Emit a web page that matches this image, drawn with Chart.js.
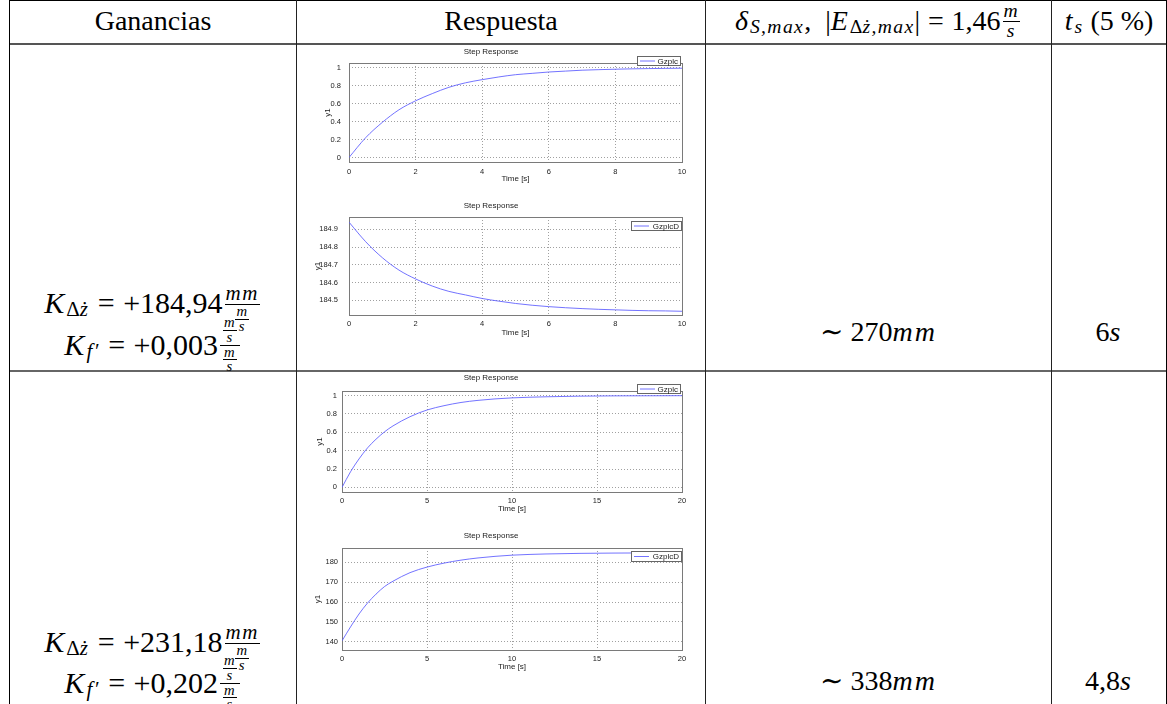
<!DOCTYPE html>
<html><head><meta charset="utf-8">
<script src="https://cdn.jsdelivr.net/npm/chart.js@4.4.1/dist/chart.umd.min.js"></script>
<style>
html,body{margin:0;padding:0;background:#fff}
#page{position:relative;width:1167px;height:704px;overflow:hidden;background:#fff;font-family:'Liberation Serif','DejaVu Serif',serif;color:#000}
.ln{position:absolute}
.cell{position:absolute;display:flex;align-items:center;justify-content:center;white-space:nowrap;font-size:28px;line-height:1;height:40px}
.big{font-size:30px}
i{font-style:italic;letter-spacing:0.07em}
.sb{font-size:70%;position:relative;top:0.3em}
.rel{margin:0 0.28em}
.fr{display:inline-flex;flex-direction:column;vertical-align:middle;text-align:center;font-size:70%;line-height:0.95;margin:0 2px;position:relative}
.fr>span{display:block;padding:0 1px}
.fr>span.n{border-bottom:1px solid #000}
canvas{position:absolute;left:300px}
</style></head>
<body><div id="page">
<!-- table rules -->
<div class="ln" style="left:9px;top:0;width:1158px;height:1px;background:#000"></div>
<div class="ln" style="left:9px;top:43px;width:1158px;height:2px;background:#555"></div>
<div class="ln" style="left:9px;top:370px;width:1158px;height:2px;background:#666"></div>
<div class="ln" style="left:9px;top:0;width:1px;height:704px;background:#000"></div>
<div class="ln" style="left:296px;top:0;width:1px;height:704px;background:#222"></div>
<div class="ln" style="left:705px;top:0;width:1px;height:704px;background:#222"></div>
<div class="ln" style="left:1051px;top:0;width:1px;height:704px;background:#222"></div>
<div class="ln" style="left:1166px;top:0;width:1px;height:704px;background:#000"></div>

<!-- header -->
<div class="cell" style="left:10px;width:286px;top:1px">Ganancias</div>
<div class="cell" style="left:297px;width:408px;top:1px">Respuesta</div>
<div class="cell" style="left:706px;width:345px;top:1px"><i>δ</i><span class="sb"><i>S,max</i></span>,&nbsp;&nbsp;|<i>E</i><span class="sb">Δ<i>ż,max</i></span>|<span class="rel">=</span>1,46<span class="fr"><span class="n"><i>m</i></span><span><i>s</i></span></span></div>
<div class="cell" style="left:1052px;width:114px;top:1px"><i>t</i><span class="sb"><i>s</i></span>&nbsp;(5 %)</div>

<!-- row 1 -->
<div class="cell big" style="left:10px;width:286px;top:283px"><i>K</i><span class="sb">Δ<i>ż</i></span><span class="rel">=</span>+184,94<span class="fr" style="top:6px"><span class="n"><i>mm</i></span><span><span class="fr"><span class="n"><i>m</i></span><span><i>s</i></span></span></span></span></div>
<div class="cell big" style="left:10px;width:286px;top:325px"><i>K</i><span class="sb"><i>f′</i></span><span class="rel">=</span>+0,003<span class="fr"><span class="n"><span class="fr"><span class="n"><i>m</i></span><span><i>s</i></span></span></span><span><span class="fr"><span class="n"><i>m</i></span><span><i>s</i></span></span></span></span></div>
<div class="cell" style="left:706px;width:345px;top:312px">∼&nbsp;270<i>mm</i></div>
<div class="cell" style="left:1052px;width:114px;top:312px">6<i>s</i></div>

<!-- row 2 -->
<div class="cell big" style="left:10px;width:286px;top:622px"><i>K</i><span class="sb">Δ<i>ż</i></span><span class="rel">=</span>+231,18<span class="fr" style="top:6px"><span class="n"><i>mm</i></span><span><span class="fr"><span class="n"><i>m</i></span><span><i>s</i></span></span></span></span></div>
<div class="cell big" style="left:10px;width:286px;top:663px"><i>K</i><span class="sb"><i>f′</i></span><span class="rel">=</span>+0,202<span class="fr"><span class="n"><span class="fr"><span class="n"><i>m</i></span><span><i>s</i></span></span></span><span><span class="fr"><span class="n"><i>m</i></span><span><i>s</i></span></span></span></span></div>
<div class="cell" style="left:706px;width:345px;top:661px">∼&nbsp;338<i>mm</i></div>
<div class="cell" style="left:1052px;width:114px;top:661px">4,8<i>s</i></div>

<canvas id="c1" width="395" height="140" style="top:44px"></canvas>
<canvas id="c2" width="395" height="140" style="top:198px"></canvas>
<canvas id="c3" width="395" height="144" style="top:370px"></canvas>
<canvas id="c4" width="395" height="144" style="top:528px"></canvas>
</div>
<script>
// ---- data ----
const timeRow1 = [0,0.5,1,1.5,2,2.5,3,3.5,4,4.5,5,5.5,6,6.5,7,7.5,8,8.5,9,9.5,10];
const gzplcRow1 = [0,0.22,0.39,0.53,0.63,0.71,0.78,0.83,0.865,0.895,0.92,0.935,0.95,0.96,0.97,0.976,0.981,0.985,0.988,0.99,0.992];
const gzplcDRow1 = [184.94,184.83,184.74,184.67,184.62,184.58,184.55,184.53,184.51,184.495,184.482,184.472,184.464,184.458,184.453,184.449,184.446,184.443,184.441,184.44,184.438];
const timeRow2 = [0,0.5,1,1.5,2,2.5,3,4,5,6,7,8,9,10,12,14,16,18,20];
const gzplcRow2 = [0,0.17,0.31,0.43,0.525,0.605,0.67,0.77,0.843,0.89,0.925,0.948,0.964,0.975,0.987,0.994,0.997,0.998,0.999];
const gzplcDRow2 = [140.5,147.5,154,159.5,164,167.8,170.5,174.8,177.6,179.6,181.1,182.2,183,183.6,184.2,184.5,184.65,184.72,184.76];
const xTicksRow1 = [0,2,4,6,8,10];
const xTicksRow2 = [0,5,10,15,20];
const yTicksUnit = [0,0.2,0.4,0.6,0.8,1];
const yTicksD1 = [184.5,184.6,184.7,184.8,184.9];
const yTicksD2 = [140,150,160,170,180];
const chartTitle = 'Step Response';
const xAxisTitle = 'Time [s]';
const yAxisTitle = 'y1';
const labelA = 'Gzplc';
const labelB = 'GzplcD';

const LINE = 'rgba(90,90,255,0.85)';
const SANS = "'Liberation Sans', Arial, sans-serif";

const framePlugin = {
  id: 'frame',
  beforeDatasetsDraw(chart) {
    const {ctx, chartArea: a} = chart;
    ctx.save();
    ctx.strokeStyle = '#7a7a7a'; ctx.lineWidth = 1;
    ctx.strokeRect(Math.round(a.left)+0.5, Math.round(a.top)+0.5, Math.round(a.right-a.left), Math.round(a.bottom-a.top));
    ctx.restore();
  }
};
const boxLegend = {
  id: 'boxLegend',
  afterDatasetsDraw(chart, args, o) {
    const {ctx, chartArea: a} = chart;
    const ds = chart.data.datasets[0];
    const x = Math.round(a.right - o.right - o.w), y = Math.round(a.top + o.dy);
    ctx.save();
    ctx.fillStyle = '#fff'; ctx.fillRect(x, y, o.w, o.h);
    ctx.strokeStyle = '#666'; ctx.lineWidth = 1; ctx.strokeRect(x+0.5, y+0.5, o.w, o.h);
    ctx.strokeStyle = ds.borderColor; ctx.beginPath();
    ctx.moveTo(x+3, y+o.h/2+0.5); ctx.lineTo(x+18, y+o.h/2+0.5); ctx.stroke();
    ctx.fillStyle = '#222'; ctx.font = '8px ' + SANS; ctx.textAlign = 'right'; ctx.textBaseline = 'middle';
    ctx.fillText(ds.label, x + o.w - 2, y + o.h/2 + 1);
    ctx.restore();
  }
};

function makeChart(id, t, y, label, xTicks, yTicks, xMax, yMin, yMax, g, lg) {
  const tf = 8, af = 8, kf = 7.5;
  const data = t.map((v,i) => ({x: v, y: y[i]}));
  new Chart(document.getElementById(id), {
    type: 'line',
    data: {datasets: [{label, data, borderColor: LINE, borderWidth: 1, pointRadius: 0, cubicInterpolationMode: 'monotone', fill: false}]},
    options: {
      responsive: false, animation: false, devicePixelRatio: 1,
      layout: {padding: {left: 0, right: 695 - g.plotR, top: 0, bottom: 0}},
      plugins: {
        legend: {display: false}, tooltip: {enabled: false},
        title: {display: true, text: chartTitle, color: '#222', font: {family: SANS, size: tf, weight: 'normal', lineHeight: 1},
          padding: {top: g.titleY - g.top - tf/2, bottom: g.plotT - g.titleY - tf/2}},
        boxLegend: lg
      },
      scales: {
        x: {type: 'linear', min: 0, max: xMax,
          afterBuildTicks: s => { s.ticks = xTicks.map(v => ({value: v})); },
          afterFit: s => { s.height = g.bottom - g.plotB; },
          grid: {color: '#a0a0a0', lineWidth: 1, drawTicks: false},
          border: {display: false, dash: [1, 2]},
          ticks: {color: '#222', font: {family: SANS, size: kf}, padding: g.tickY - g.plotB - kf/2, maxRotation: 0},
          title: {display: true, text: xAxisTitle, color: '#222', font: {family: SANS, size: af, lineHeight: 1}, padding: {top: 0, bottom: g.bottom - g.xTitleY - af/2}}
        },
        y: {type: 'linear', min: yMin, max: yMax,
          afterBuildTicks: s => { s.ticks = yTicks.map(v => ({value: v})); },
          afterFit: s => { s.width = g.plotL - 300; },
          grid: {color: '#a0a0a0', lineWidth: 1, drawTicks: false},
          border: {display: false, dash: [1, 2]},
          ticks: {color: '#222', font: {family: SANS, size: kf}, padding: g.plotL - g.yLabR, callback: v => String(v)},
          title: {display: true, text: yAxisTitle, color: '#222', font: {family: SANS, size: af, lineHeight: 1}, padding: {top: g.yTitleX - 300 - af/2, bottom: 0}}
        }
      }
    },
    plugins: [framePlugin, boxLegend]
  });
}

makeChart('c1', timeRow1, gzplcRow1, labelA, xTicksRow1, yTicksUnit, 10, -0.05, 1.05,
  {top: 44, bottom: 184, titleY: 52, plotT: 63, plotB: 162, plotL: 349, plotR: 682, tickY: 171, xTitleY: 179, yTitleX: 328, yLabR: 341},
  {right: 2, w: 43, h: 9, dy: -7});
makeChart('c2', timeRow1, gzplcDRow1, labelB, xTicksRow1, yTicksD1, 10, 184.417, 184.969,
  {top: 198, bottom: 338, titleY: 206, plotT: 217, plotB: 315, plotL: 349, plotR: 682, tickY: 323, xTitleY: 333, yTitleX: 318, yLabR: 338},
  {right: 1, w: 50, h: 9, dy: 4});
makeChart('c3', timeRow2, gzplcRow2, labelA, xTicksRow2, yTicksUnit, 20, -0.05, 1.05,
  {top: 370, bottom: 514, titleY: 378, plotT: 391, plotB: 492, plotL: 342, plotR: 682, tickY: 500, xTitleY: 509, yTitleX: 320, yLabR: 337},
  {right: 2, w: 43, h: 9, dy: -7});
makeChart('c4', timeRow2, gzplcDRow2, labelB, xTicksRow2, yTicksD2, 20, 135.9, 187.2,
  {top: 528, bottom: 672, titleY: 536, plotT: 548, plotB: 650, plotL: 342, plotR: 682, tickY: 658, xTitleY: 667, yTitleX: 318, yLabR: 338},
  {right: 1, w: 50, h: 10, dy: 3});
</script>
</body></html>
